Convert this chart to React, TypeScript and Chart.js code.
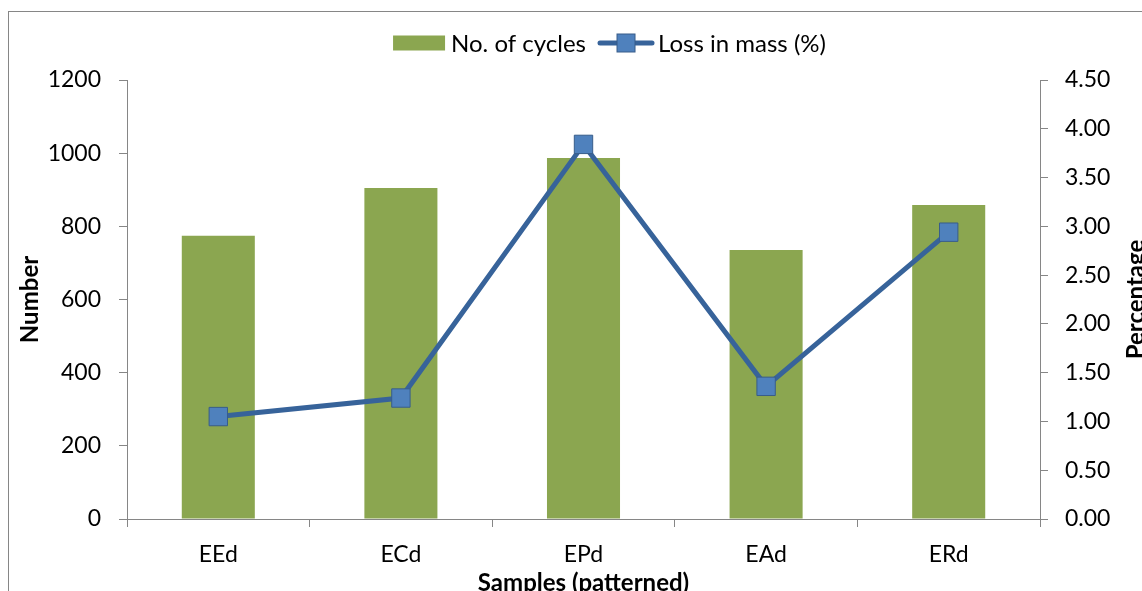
import React, { useEffect, useRef } from "react";
import { Chart, registerables } from "chart.js";

Chart.register(...registerables);

// Abrasion test results per patterned sample
const samples = ["EEd", "ECd", "EPd", "EAd", "ERd"];
const cyclesCount = [774, 905, 987, 735, 858];
const massLossPct = [1.05, 1.24, 3.84, 1.36, 2.94];

const cyclesLabel = "No. of cycles";
const lossLabel = "Loss in mass (%)";
const xTitle = "Samples (patterned)";
const leftTitle = "Number";
const rightTitle = "Percentage";

const W = 1170;
const H = 610;
const FONT = "Lato, 'Open Sans', sans-serif";
const AXIS_GRAY = "#868686";
const BAR_GREEN = "#8BA650";
const LINE_BLUE = "#37639A";
const MARKER_FILL = "#4F81BD";
const MARKER_EDGE = "#385D8A";

// Frame, legend and secondary-axis title drawn on top of the chart
const decorations = {
  id: "decorations",
  afterDraw(chart: any) {
    const { ctx, chartArea } = chart;
    ctx.save();

    // chart frame (extends past the visible page)
    ctx.strokeStyle = AXIS_GRAY;
    ctx.lineWidth = 1;
    ctx.strokeRect(8.5, 11.5, 1203, 640);

    // legend
    const bar = chart.data.datasets[0];
    const line = chart.data.datasets[1];
    ctx.font = `24px ${FONT}`;
    ctx.textBaseline = "middle";
    ctx.textAlign = "left";
    const t1 = ctx.measureText(bar.label).width;
    const t2 = ctx.measureText(line.label).width;
    const swatchW = 52;
    const lineW = 56;
    const gap = 6;
    const itemGap = 12;
    const total = swatchW + gap + t1 + itemGap + lineW + 4 + t2;
    const cx = 609.5;
    const ly = 43;
    let x = cx - total / 2;
    ctx.fillStyle = bar.backgroundColor;
    ctx.fillRect(x, ly - 7.5, swatchW, 15);
    x += swatchW + gap;
    ctx.fillStyle = "#000";
    ctx.fillText(bar.label, x, ly + 1);
    x += t1 + itemGap;
    ctx.strokeStyle = line.borderColor;
    ctx.lineWidth = 5;
    ctx.lineCap = "round";
    ctx.beginPath();
    ctx.moveTo(x + 2, ly);
    ctx.lineTo(x + lineW - 2, ly);
    ctx.stroke();
    const m = 18;
    ctx.fillStyle = line.pointBackgroundColor;
    ctx.strokeStyle = line.pointBorderColor;
    ctx.lineWidth = 1;
    ctx.fillRect(x + lineW / 2 - m / 2, ly - m / 2, m, m);
    ctx.strokeRect(x + lineW / 2 - m / 2, ly - m / 2, m, m);
    x += lineW + 4;
    ctx.fillStyle = "#000";
    ctx.fillText(line.label, x, ly + 1);

    // secondary axis title, reading bottom to top
    const midY = (chartArea.top + chartArea.bottom) / 2;
    ctx.font = `bold 24px ${FONT}`;
    ctx.textAlign = "center";
    ctx.textBaseline = "middle";
    ctx.translate(1136, midY);
    ctx.rotate(-Math.PI / 2);
    ctx.fillText(rightTitle, 0, 0);
    ctx.restore();
  },
};

export default function App() {
  const ref = useRef<HTMLCanvasElement | null>(null);

  useEffect(() => {
    if (!ref.current) return;
    const tickFont = { family: FONT, size: 23 };
    const titleFont = { family: FONT, size: 24, weight: "bold" as const };

    const chart = new Chart(ref.current, {
      type: "bar",
      data: {
        labels: samples,
        datasets: [
          {
            type: "bar",
            label: cyclesLabel,
            data: cyclesCount,
            backgroundColor: BAR_GREEN,
            borderWidth: 0,
            barPercentage: 0.4,
            categoryPercentage: 1.0,
            yAxisID: "y",
            order: 1,
          },
          {
            type: "line",
            label: lossLabel,
            data: massLossPct,
            borderColor: LINE_BLUE,
            borderWidth: 5,
            pointStyle: "rect",
            pointRadius: 13,
            pointBackgroundColor: MARKER_FILL,
            pointBorderColor: MARKER_EDGE,
            pointBorderWidth: 1,
            tension: 0,
            yAxisID: "y1",
            order: 0,
          } as any,
        ],
      },
      options: {
        responsive: false,
        animation: false,
        layout: { padding: { top: 80, left: 0, right: 0, bottom: 0 } },
        plugins: {
          legend: { display: false },
          tooltip: { enabled: false },
        },
        scales: {
          x: {
            offset: true,
            grid: {
              offset: true,
              drawOnChartArea: false,
              drawTicks: true,
              tickLength: 8,
              tickColor: AXIS_GRAY,
              tickWidth: 1,
            },
            border: { color: AXIS_GRAY, width: 1 },
            ticks: { color: "#000", font: tickFont, padding: 14, maxRotation: 0 },
            title: {
              display: true,
              text: xTitle,
              color: "#000",
              font: titleFont,
              padding: { top: 0, bottom: 12 },
            },
            afterFit(scale: any) {
              scale.height = H - 519;
            },
          },
          y: {
            position: "left",
            min: 0,
            max: 1200,
            ticks: {
              stepSize: 200,
              color: "#000",
              font: tickFont,
              padding: 18,
              callback: (v: any) => String(v),
            },
            grid: {
              drawOnChartArea: false,
              drawTicks: true,
              tickLength: 8,
              tickColor: AXIS_GRAY,
              tickWidth: 1,
            },
            border: { color: AXIS_GRAY, width: 1 },
            title: {
              display: true,
              text: leftTitle,
              color: "#000",
              font: titleFont,
              padding: { top: 16, bottom: 0 },
            },
            afterFit(scale: any) {
              scale.width = 127;
            },
          },
          y1: {
            position: "right",
            min: 0,
            max: 4.5,
            ticks: {
              stepSize: 0.5,
              color: "#000",
              font: tickFont,
              padding: 17,
              callback: (v: any) => Number(v).toFixed(2),
            },
            grid: {
              drawOnChartArea: false,
              drawTicks: true,
              tickLength: 8,
              tickColor: AXIS_GRAY,
              tickWidth: 1,
            },
            border: { color: AXIS_GRAY, width: 1 },
            afterFit(scale: any) {
              scale.width = W - 1040;
            },
          },
        },
      },
      plugins: [decorations],
    });
    return () => chart.destroy();
  }, []);

  return (
    <div
      style={{
        position: "absolute",
        left: 0,
        top: 0,
        width: 1142,
        height: 591,
        overflow: "hidden",
        background: "#fff",
      }}
    >
      <canvas ref={ref} width={W} height={H} style={{ display: "block", width: W, height: H }} />
    </div>
  );
}
